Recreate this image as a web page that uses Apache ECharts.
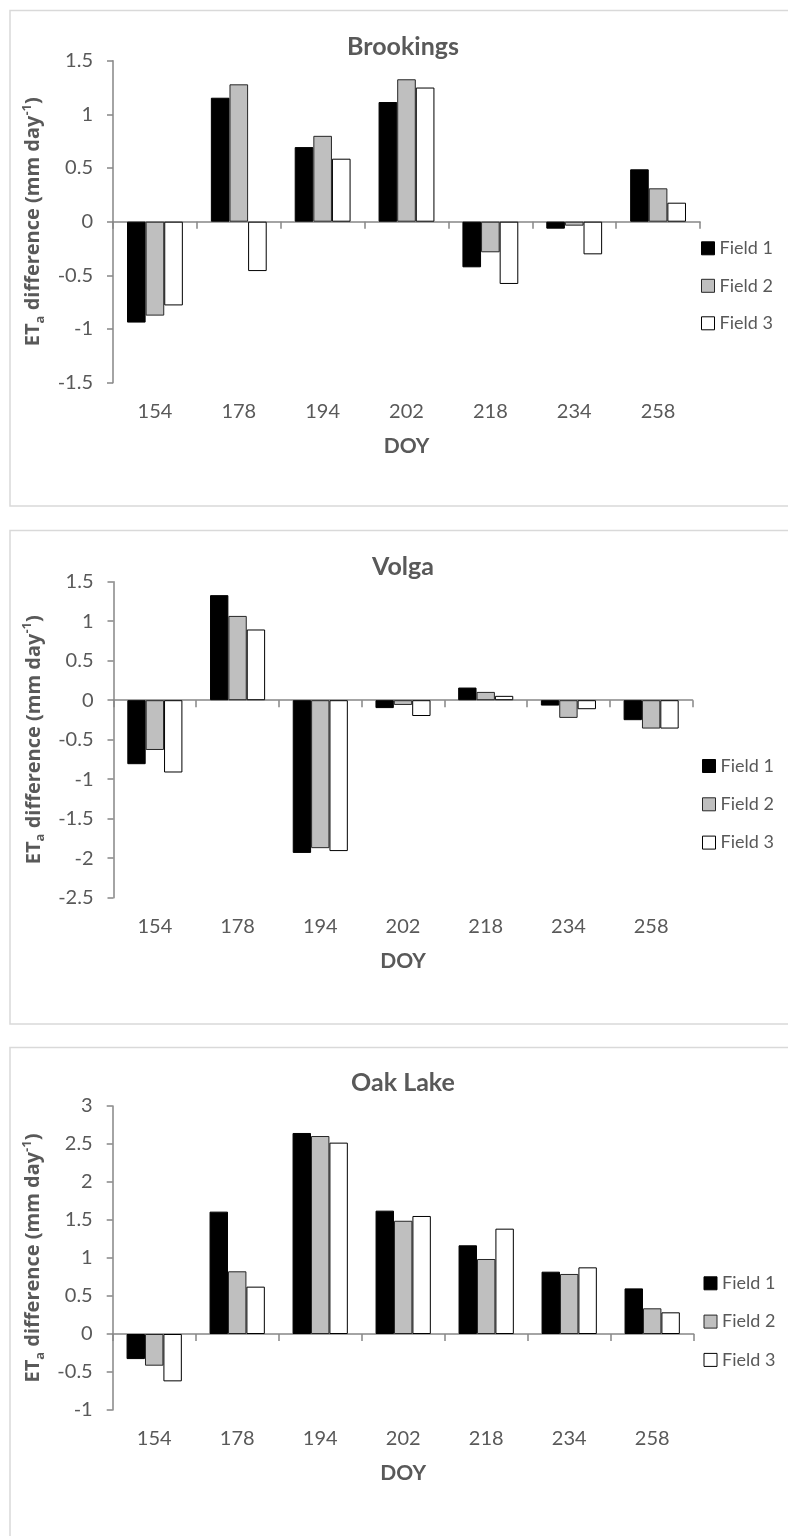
<!DOCTYPE html>
<html>
<head>
<meta charset="utf-8">
<script src="https://cdn.jsdelivr.net/npm/echarts@6/dist/echarts.min.js"></script>
<style>
  html, body { margin: 0; padding: 0; background: #ffffff; }
  #chart { width: 788px; height: 1536px; }
</style>
</head>
<body>
<div id="chart"></div>
<script>
// Day of year of each acquisition
const categories = ['154', '178', '194', '202', '218', '234', '258'];
const seriesNames = ['Field 1', 'Field 2', 'Field 3'];

// ETa difference (mm day-1), Brookings
const brookingsField1 = [-0.94, 1.155, 0.695, 1.115, -0.425, -0.065, 0.488];
const brookingsField2 = [-0.875, 1.28, 0.80, 1.327, -0.285, -0.037, 0.311];
const brookingsField3 = [-0.78, -0.46, 0.587, 1.25, -0.58, -0.304, 0.177];

// ETa difference (mm day-1), Volga
const volgaField1 = [-0.81, 1.33, -1.933, -0.10, 0.16, -0.068, -0.253];
const volgaField2 = [-0.63, 1.067, -1.873, -0.06, 0.105, -0.224, -0.359];
const volgaField3 = [-0.915, 0.895, -1.91, -0.20, 0.055, -0.114, -0.359];

// ETa difference (mm day-1), Oak Lake
const oakLakeField1 = [-0.33, 1.61, 2.645, 1.623, 1.167, 0.82, 0.60];
const oakLakeField2 = [-0.417, 0.825, 2.605, 1.49, 0.987, 0.79, 0.338];
const oakLakeField3 = [-0.623, 0.623, 2.518, 1.553, 1.386, 0.877, 0.285];

// Value-axis ranges [min, max] and tick step
const brookingsRange = [-1.5, 1.5];
const volgaRange = [-2.5, 1.5];
const oakLakeRange = [-1, 3];
const yStep = 0.5;

const panels = [
  { title: 'Brookings', values: [brookingsField1, brookingsField2, brookingsField3], range: brookingsRange },
  { title: 'Volga', values: [volgaField1, volgaField2, volgaField3], range: volgaRange },
  { title: 'Oak Lake', values: [oakLakeField1, oakLakeField2, oakLakeField3], range: oakLakeRange }
];

// Page geometry of each panel (frame, plot area, title, legend)
const layout = [
  { frameTop: 10.5, frameH: 495.5, grid: { left: 113, top: 60.7, width: 587, height: 322 }, titleY: 46.7, legendTop: 239.3, legendLeft: 701, legendGap: 19.5 },
  { frameTop: 530.5, frameH: 493.5, grid: { left: 113.5, top: 581.7, width: 579, height: 316 }, titleY: 566.7, legendTop: 757, legendLeft: 702, legendGap: 20.3 },
  { frameTop: 1047.5, frameH: 600, grid: { left: 112.7, top: 1106, width: 581, height: 304 }, titleY: 1083.3, legendTop: 1274.3, legendLeft: 703.5, legendGap: 20.3 }
];

const AXIS = '#868686';
const TEXT = '#595959';
const fieldStyles = [
  { color: '#000000', borderColor: '#000000', borderWidth: 1 },
  { color: '#bfbfbf', borderColor: '#262626', borderWidth: 1 },
  { color: '#ffffff', borderColor: '#000000', borderWidth: 1 }
];

const yTitleRich = {
  n:   { fontFamily: 'Open Sans', fontWeight: 'bold', fontSize: 20, color: TEXT, lineHeight: 26 },
  sub: { fontFamily: 'Open Sans', fontWeight: 'bold', fontSize: 13, color: TEXT, lineHeight: 13, verticalAlign: 'bottom' },
  sup: { fontFamily: 'Open Sans', fontWeight: 'bold', fontSize: 13, color: TEXT, lineHeight: 13, verticalAlign: 'top' }
};

const grid = [], xAxis = [], yAxis = [], series = [], title = [], legend = [], graphic = [];

panels.forEach((p, i) => {
  const L = layout[i];
  grid.push(Object.assign({ containLabel: false, outerBoundsMode: 'none' }, L.grid));

  graphic.push({
    type: 'rect', silent: true, z: -10,
    shape: { x: 10, y: L.frameTop, width: 820, height: L.frameH },
    style: { fill: 'none', stroke: '#d9d9d9', lineWidth: 1.5 }
  });

  title.push({
    text: p.title, left: 403, top: L.titleY - 15, textAlign: 'center', padding: 0,
    textStyle: { fontFamily: 'Lato', fontWeight: 'bold', fontSize: 25, lineHeight: 30, color: TEXT }
  });

  // zero line with category boundary ticks
  xAxis.push({
    type: 'category', gridIndex: i, data: categories, position: 'bottom',
    axisLine: { show: true, onZero: true, lineStyle: { color: AXIS, width: 1.5 } },
    axisTick: { show: true, length: 7, alignWithLabel: false, lineStyle: { color: AXIS, width: 1.5 } },
    axisLabel: { show: false },
    splitLine: { show: false }
  });
  // category labels and axis title along the bottom of the plot
  xAxis.push({
    type: 'category', gridIndex: i, data: categories, position: 'bottom',
    axisLine: { show: false, onZero: false },
    axisTick: { show: false },
    axisLabel: { show: true, interval: 0, margin: 19, color: TEXT, fontFamily: 'Lato', fontSize: 20 },
    splitLine: { show: false },
    name: 'DOY', nameLocation: 'middle', nameGap: 53,
    nameTextStyle: { fontFamily: 'Lato', fontWeight: 'bold', fontSize: 21, color: TEXT }
  });

  yAxis.push({
    type: 'value', gridIndex: i, min: p.range[0], max: p.range[1], interval: yStep,
    axisLine: { show: true, lineStyle: { color: AXIS, width: 1.5 } },
    axisTick: { show: true, length: 6, lineStyle: { color: AXIS, width: 1.5 } },
    axisLabel: { show: true, margin: 20, color: TEXT, fontFamily: 'Lato', fontSize: 20, showMinLabel: true, showMaxLabel: true },
    splitLine: { show: false },
    name: '{n|ET}{sub|a}{n| difference (mm day}{sup|-1}{n|)}',
    nameLocation: 'middle', nameRotate: 90, nameGap: 54,
    nameTextStyle: { rich: yTitleRich }
  });

  p.values.forEach((vals, k) => {
    series.push({
      type: 'bar', name: seriesNames[k], xAxisIndex: 2 * i, yAxisIndex: i,
      data: vals, barWidth: '22.2%', barGap: '0%',
      itemStyle: fieldStyles[k],
      emphasis: { disabled: true },
      animation: false
    });
  });

  legend.push({
    orient: 'vertical', left: L.legendLeft, top: L.legendTop, padding: 0,
    itemGap: L.legendGap, itemWidth: 13, itemHeight: 13, icon: 'rect',
    selectedMode: false,
    data: seriesNames.map((n, k) => ({ name: n, itemStyle: fieldStyles[k] })),
    textStyle: { fontFamily: 'Lato', fontSize: 18, lineHeight: 18, color: TEXT }
  });
});

const chart = echarts.init(document.getElementById('chart'), null, { renderer: 'canvas', width: 788, height: 1536 });
chart.setOption({
  backgroundColor: '#ffffff',
  animation: false,
  textStyle: { fontFamily: 'Lato' },
  title, legend, grid, xAxis, yAxis, series, graphic
});
</script>
</body>
</html>
